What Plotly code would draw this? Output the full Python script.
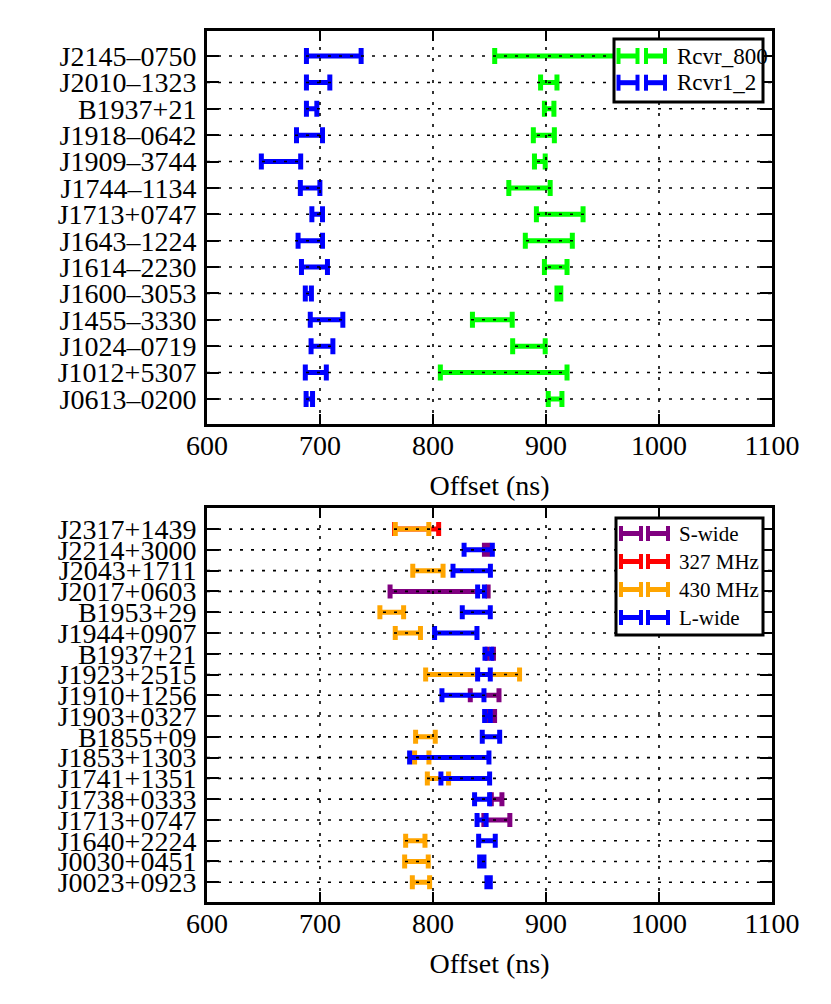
import plotly.graph_objects as go
from plotly.subplots import make_subplots

# ---- top panel: two receivers ----
names_top = ["J2145\u20130750", "J2010\u20131323", "B1937+21", "J1918\u20130642",
             "J1909\u20133744", "J1744\u20131134", "J1713+0747", "J1643\u20131224",
             "J1614\u20132230", "J1600\u20133053", "J1455\u20133330", "J1024\u20130719",
             "J1012+5307", "J0613\u20130200"]
rcvr800_lo = [854.6, 895.2, 898.6, 888.8, 889.8, 867.1, 891.5, 881.7, 898.6, 909.7, 834.9, 870.5, 806.5, 902.0]
rcvr800_hi = [990.0, 909.7, 907.0, 907.4, 899.3, 903.7, 932.8, 923.3, 918.6, 913.1, 870.1, 899.3, 918.6, 914.1]
rcvr12_lo = [688.0, 688.0, 688.0, 679.2, 648.1, 682.6, 692.8, 680.6, 683.6, 687.0, 691.4, 692.1, 687.0, 687.7]
rcvr12_hi = [736.4, 708.7, 697.2, 702.2, 682.9, 699.9, 702.2, 702.2, 706.6, 692.4, 720.2, 711.4, 705.6, 693.4]

# ---- bottom panel: four receivers ----
names_bot = ["J2317+1439", "J2214+3000", "J2043+1711", "J2017+0603", "B1953+29",
             "J1944+0907", "B1937+21", "J1923+2515", "J1910+1256", "J1903+0327",
             "B1855+09", "J1853+1303", "J1741+1351", "J1738+0333", "J1713+0747",
             "J1640+2224", "J0030+0451", "J0023+0923"]
N = None
swide_lo = [N, 845.5, N, 762.0, N, N, 848.0, N, 833.0, 848.0, N, N, N, 851.6, 845.0, N, N, N]
swide_hi = [N, 848.5, N, 848.8, N, N, 853.5, N, 858.4, 854.5, N, N, N, 861.0, 868.0, N, N, N]
mhz327_lo = [766.0, N, N, N, N, N, N, N, N, N, N, N, N, N, N, N, N, N]
mhz327_hi = [805.0, N, N, N, N, N, N, N, N, N, N, N, N, N, N, N, N, N]
mhz430_lo = [766.6, N, 782.1, N, 753.0, 766.6, N, 793.5, N, N, 784.6, 783.7, 795.0, N, N, 775.8, 774.9, 781.7]
mhz430_hi = [796.3, N, 808.9, N, 774.0, 788.9, N, 876.6, N, N, 802.0, 796.4, 813.8, N, N, 792.9, 795.8, 797.0]
lwide_lo = [N, 827.5, 817.7, 839.5, 825.9, 801.4, 846.0, 839.5, 807.9, 845.7, 843.6, 779.3, 807.0, 836.8, 839.0, 840.4, 841.3, 847.7]
lwide_hi = [N, 852.5, 850.8, 845.5, 850.7, 838.9, 852.0, 850.7, 845.1, 850.7, 859.0, 849.5, 850.1, 850.1, 847.0, 855.1, 845.1, 850.7]

x_ticks = [600, 700, 800, 900, 1000, 1100]

GREEN = "#00ff00"
BLUE = "#0000ff"
PURPLE = "#800080"
RED = "#ff0000"
ORANGE = "#ffa500"
FONT = "Liberation Serif"

# page body adds an 8px margin, so the figure is 8px smaller than the window
OFF = 8
W, H = 823, 996
ML, MR, MT, MB = 199, 59, 23, 102
PW, PH = W - ML - MR, H - MT - MB
top_dom = [0.5488, 1.0]
bot_dom = [0.0, 0.452]
top_range = [-0.95, len(names_top) - 0.05]
bot_range = [-0.95, len(names_bot)]

fig = make_subplots(rows=2, cols=1)


def add_intervals(names, lo, hi, color, row, cap):
    xs, ys, errs = [], [], []
    n = len(names)
    for i, (a, b) in enumerate(zip(lo, hi)):
        if a is None:
            continue
        xs.append((a + b) / 2)
        errs.append((b - a) / 2)
        ys.append(n - 1 - i)
    fig.add_trace(go.Scatter(
        x=xs, y=ys, mode="markers",
        marker=dict(size=1, opacity=0, color=color),
        error_x=dict(type="data", array=errs, symmetric=True,
                     thickness=5, width=cap, color=color),
        showlegend=False, hoverinfo="skip"), row=row, col=1)


def add_grid(n, yr, row):
    # dotted grid drawn over the bars, like the original
    gx, gy = [], []
    for k in range(n):
        gx += [x_ticks[0], x_ticks[-1], None]
        gy += [k, k, None]
    for t in x_ticks[1:-1]:
        gx += [t, t, None]
        gy += [yr[0], yr[1], None]
    fig.add_trace(go.Scatter(
        x=gx, y=gy, mode="lines",
        line=dict(color="black", width=1.6, dash="3px,8px"),
        showlegend=False, hoverinfo="skip"), row=row, col=1)


add_intervals(names_top, rcvr800_lo, rcvr800_hi, GREEN, 1, 8)
add_intervals(names_top, rcvr12_lo, rcvr12_hi, BLUE, 1, 8)
add_grid(len(names_top), top_range, 1)

add_intervals(names_bot, swide_lo, swide_hi, PURPLE, 2, 7)
add_intervals(names_bot, mhz327_lo, mhz327_hi, RED, 2, 7)
add_intervals(names_bot, mhz430_lo, mhz430_hi, ORANGE, 2, 7)
add_intervals(names_bot, lwide_lo, lwide_hi, BLUE, 2, 7)
add_grid(len(names_bot), bot_range, 2)

axis_common = dict(showline=True, linewidth=3, linecolor="black", mirror="allticks",
                   ticks="inside", tickcolor="black", tickwidth=1.5,
                   showgrid=False, zeroline=False,
                   tickfont=dict(family=FONT, size=28, color="black"))

for r, names, yr, dom in [(1, names_top, top_range, top_dom), (2, names_bot, bot_range, bot_dom)]:
    n = len(names)
    fig.update_xaxes(range=[x_ticks[0], x_ticks[-1]], tickvals=x_ticks,
                     ticktext=[str(t) for t in x_ticks], ticklen=10,
                     ticklabelstandoff=-6,
                     title=dict(text="Offset (ns)", font=dict(family=FONT, size=28, color="black"),
                                standoff=16),
                     row=r, col=1, **axis_common)
    fig.update_yaxes(range=yr, tickvals=list(range(n)), ticktext=names[::-1],
                     ticklen=12, ticklabelstandoff=2, domain=dom, row=r, col=1, **axis_common)


# ---- hand-built legends ("H H" error bar glyphs), positions in window pixels ----
def px_x(px):
    return (px - OFF - ML) / PW


def px_y(py):
    return (H + OFF - MB - py) / PH


shapes, annots = [], []


def add_legend(box, entries, glyph1, glyph2, text_x, cap_h, fsize):
    x0, x1, y0, y1 = box
    shapes.append(dict(type="rect", xref="paper", yref="paper", layer="above",
                       x0=px_x(x0), x1=px_x(x1), y0=px_y(y1), y1=px_y(y0),
                       fillcolor="white", line=dict(color="black", width=3)))
    for label, color, yc in entries:
        for gx0, gx1 in (glyph1, glyph2):
            shapes.append(dict(type="line", xref="paper", yref="paper", layer="above",
                               x0=px_x(gx0), x1=px_x(gx1), y0=px_y(yc), y1=px_y(yc),
                               line=dict(color=color, width=5)))
            for cx in (gx0, gx1):
                shapes.append(dict(type="line", xref="paper", yref="paper", layer="above",
                                   x0=px_x(cx), x1=px_x(cx),
                                   y0=px_y(yc - cap_h / 2), y1=px_y(yc + cap_h / 2),
                                   line=dict(color=color, width=4)))
        annots.append(dict(xref="paper", yref="paper", x=px_x(text_x), y=px_y(yc),
                           xanchor="left", yanchor="middle", showarrow=False, text=label,
                           font=dict(family=FONT, size=fsize, color="black")))


add_legend((614, 763, 39, 102),
           [("Rcvr_800", GREEN, 56), ("Rcvr1_2", BLUE, 82.7)],
           (618.5, 637.5), (646, 665), 675, 16, 23)
add_legend((616, 763, 518, 635),
           [("S-wide", PURPLE, 533.5), ("327 MHz", RED, 561.5),
            ("430 MHz", ORANGE, 589.5), ("L-wide", BLUE, 617.5)],
           (621, 641), (648, 668), 677, 15, 21)

fig.update_layout(width=W, height=H, margin=dict(l=ML, r=MR, t=MT, b=MB),
                  plot_bgcolor="white", paper_bgcolor="white",
                  shapes=shapes, annotations=annots,
                  font=dict(family=FONT, color="black"))

fig.write_html("out.html")
